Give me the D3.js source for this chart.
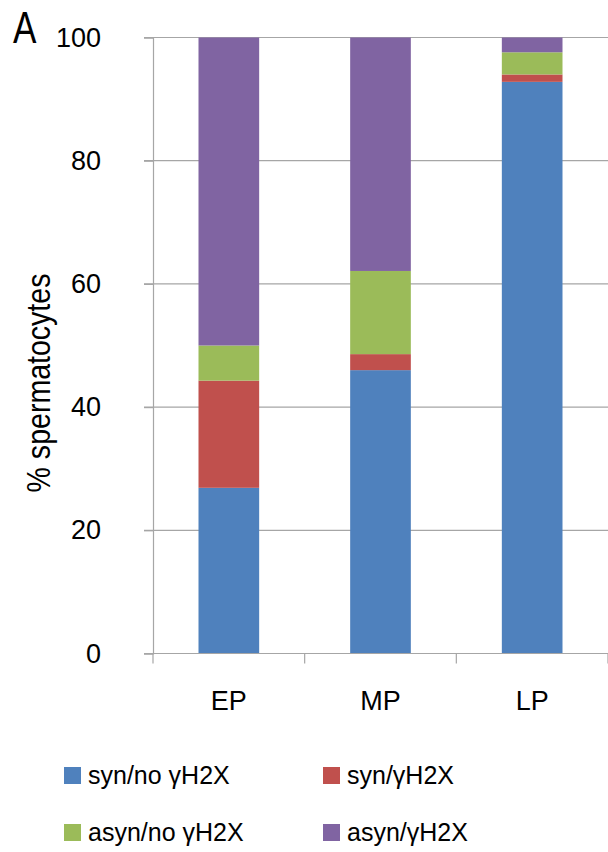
<!DOCTYPE html>
<html><head><meta charset="utf-8">
<script src="https://cdn.jsdelivr.net/npm/d3@7"></script>
<style>body{margin:0;background:#fff}svg{display:block}text{font-family:"Liberation Sans",Arial,sans-serif;fill:#000}</style>
</head><body>
<svg id="c" width="608" height="852"></svg>
<script>
const categories = ["EP", "MP", "LP"];
const seriesNames = ["syn/no γH2X", "syn/γH2X", "asyn/no γH2X", "asyn/γH2X"];
const synNo = [26.9, 46.0, 92.8];
const synY = [17.4, 2.6, 1.2];
const asynNo = [5.7, 13.5, 3.6];
const asynY = [50.0, 37.9, 2.4];
const yTicks = [0, 20, 40, 60, 80, 100];
const colors = ["#4F81BD", "#C0504D", "#9BBB59", "#8064A2"];

const svg = d3.select("#c");
const x = d3.scaleBand().domain(categories).range([153, 608]).paddingInner(0.6).paddingOuter(0.3);
const y = d3.scaleLinear().domain([0, 100]).range([653.5, 37.5]);

const table = categories.map((c, i) => ({cat: c, s0: synNo[i], s1: synY[i], s2: asynNo[i], s3: asynY[i]}));
const stack = d3.stack().keys(["s0", "s1", "s2", "s3"])(table);

// gridlines
svg.append("g").selectAll("line").data(yTicks.slice(1)).join("line")
  .attr("x1", 144).attr("x2", 608).attr("y1", d => y(d)).attr("y2", d => y(d))
  .attr("stroke", "#a6a6a6").attr("stroke-width", 1.2);

// bars
svg.append("g").selectAll("g").data(stack).join("g").attr("fill", (d, i) => colors[i])
  .selectAll("rect").data(d => d).join("rect")
  .attr("x", d => x(d.data.cat)).attr("width", x.bandwidth())
  .attr("y", d => y(d[1])).attr("height", d => y(d[0]) - y(d[1]));

// y axis
const ya = svg.append("g").attr("transform", "translate(153,0)")
  .call(d3.axisLeft(y).tickValues(yTicks).tickSize(9).tickPadding(43));
ya.select(".domain").attr("stroke", "#a6a6a6").attr("stroke-width", 1.2);
ya.selectAll(".tick line").attr("stroke", "#a6a6a6").attr("stroke-width", 1.2);
ya.selectAll("text").attr("font-size", 27).attr("font-family", "Liberation Sans, Arial, sans-serif").attr("fill", "#000");

// x axis
const xs = d3.scaleLinear().domain([0, 3]).range([153, 608]);
svg.append("line").attr("x1", 144).attr("x2", 608).attr("y1", y(0)).attr("y2", y(0))
  .attr("stroke", "#a6a6a6").attr("stroke-width", 1.2);
svg.append("g").selectAll("line").data([0, 1, 2, 3]).join("line")
  .attr("x1", d => xs(d)).attr("x2", d => xs(d)).attr("y1", y(0)).attr("y2", y(0) + 10)
  .attr("stroke", "#a6a6a6").attr("stroke-width", 1.2);
svg.append("g").selectAll("text").data(categories).join("text")
  .attr("x", d => x(d) + x.bandwidth() / 2).attr("y", 710)
  .attr("text-anchor", "middle").attr("font-size", 27).text(d => d);

// y label
svg.append("text").attr("transform", "translate(50,383) rotate(-90) scale(0.84,1)")
  .attr("text-anchor", "middle").attr("font-size", 34).text("% spermatocytes");

// panel letter
svg.append("text").attr("transform", "translate(13,43) scale(0.78,1)")
  .attr("font-size", 45).attr("font-family", "DejaVu Sans, sans-serif").attr("font-weight", 200).text("A");

// legend
const legPos = [[64, 767], [323, 767], [64, 824], [323, 824]];
const lg = svg.append("g").selectAll("g").data(seriesNames).join("g")
  .attr("transform", (d, i) => `translate(${legPos[i][0]},${legPos[i][1]})`);
lg.append("rect").attr("width", 17).attr("height", 17).attr("fill", (d, i) => colors[i]);
lg.append("text").attr("x", 24).attr("y", 17).attr("font-size", 25).text(d => d);
</script>
</body></html>
